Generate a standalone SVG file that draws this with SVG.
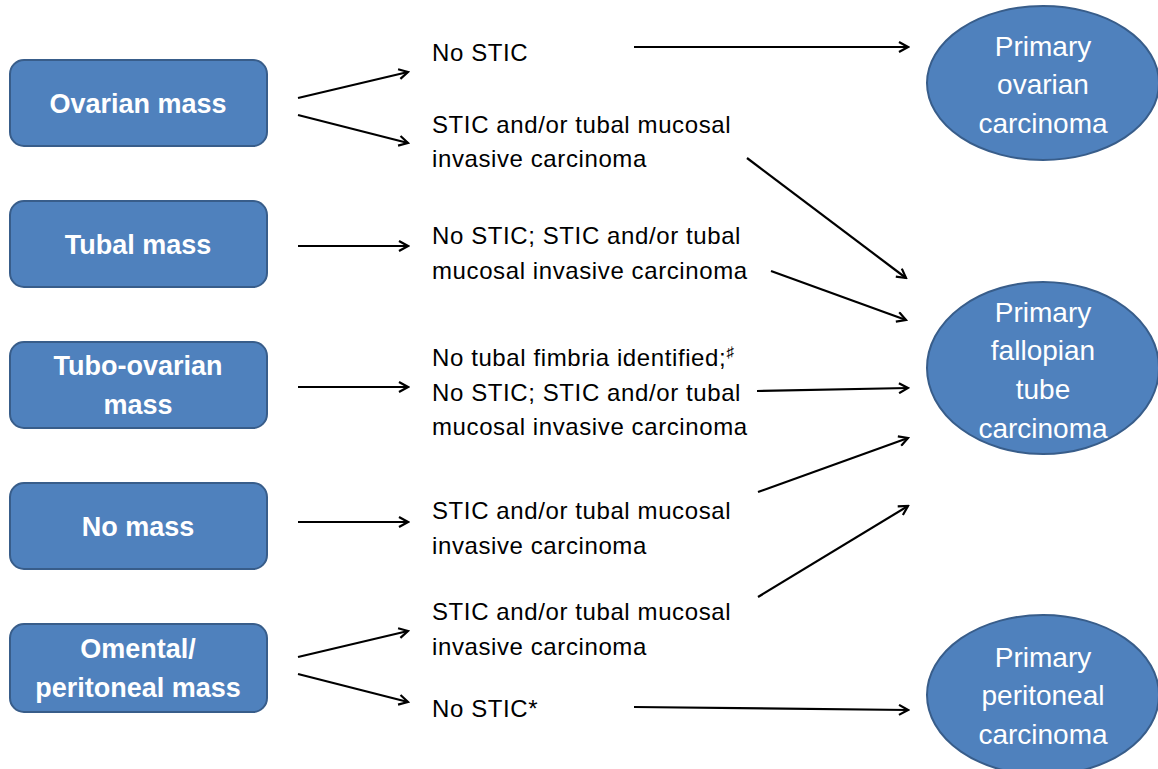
<svg xmlns="http://www.w3.org/2000/svg" width="1158" height="769" viewBox="0 0 1158 769">
<style>
.box{fill:#4f81bd;stroke:#385d8a;stroke-width:2}
.bt{font-family:"Liberation Sans",Arial,sans-serif;font-size:27px;font-weight:bold;fill:#fff;text-anchor:middle}
.et{font-family:"Liberation Sans",Arial,sans-serif;font-size:28px;fill:#fff;text-anchor:middle}
.mt{font-family:"Liberation Sans",Arial,sans-serif;font-size:24px;fill:#000;letter-spacing:0.6px}
.c{stroke:#000;stroke-width:2.2;fill:none;marker-end:url(#ah)}
</style>
<defs>
<marker id="ah" markerWidth="12" markerHeight="12" refX="10" refY="6" orient="auto" markerUnits="userSpaceOnUse">
<path d="M1,1 L10,6 L1,11" fill="none" stroke="#000" stroke-width="2.2"/>
</marker>
</defs>
<rect width="1158" height="769" fill="#fff"/>
<g id="n-ovarian"><rect class="box" x="10" y="60" width="257" height="86" rx="14"/><text class="bt" x="138" y="113">Ovarian mass</text></g>
<g id="n-tubal"><rect class="box" x="10" y="201" width="257" height="86" rx="14"/><text class="bt" x="138" y="254">Tubal mass</text></g>
<g id="n-tubo"><rect class="box" x="10" y="342" width="257" height="86" rx="14"/><text class="bt" x="138" y="375">Tubo-ovarian</text><text class="bt" x="138" y="414">mass</text></g>
<g id="n-nomass"><rect class="box" x="10" y="483" width="257" height="86" rx="14"/><text class="bt" x="138" y="536">No mass</text></g>
<g id="n-omental"><rect class="box" x="10" y="624" width="257" height="88" rx="14"/><text class="bt" x="138" y="658">Omental/</text><text class="bt" x="138" y="697">peritoneal mass</text></g>
<g id="t-1"><text class="mt" x="432" y="61">No STIC</text></g>
<g id="t-2"><text class="mt" x="432" y="133">STIC and/or tubal mucosal</text><text class="mt" x="432" y="167">invasive carcinoma</text></g>
<g id="t-3"><text class="mt" x="432" y="244">No STIC; STIC and/or tubal</text><text class="mt" x="432" y="279">mucosal invasive carcinoma</text></g>
<g id="t-4"><text class="mt" x="432" y="366">No tubal fimbria identified;<tspan dy="-9" font-size="15">♯</tspan></text><text class="mt" x="432" y="401">No STIC; STIC and/or tubal</text><text class="mt" x="432" y="435">mucosal invasive carcinoma</text></g>
<g id="t-5"><text class="mt" x="432" y="519">STIC and/or tubal mucosal</text><text class="mt" x="432" y="554">invasive carcinoma</text></g>
<g id="t-6"><text class="mt" x="432" y="620">STIC and/or tubal mucosal</text><text class="mt" x="432" y="655">invasive carcinoma</text></g>
<g id="t-7"><text class="mt" x="432" y="717">No STIC*</text></g>
<g id="e-ovarian"><ellipse class="box" cx="1043" cy="83" rx="116" ry="77"/><text class="et" x="1043" y="56">Primary</text><text class="et" x="1043" y="94">ovarian</text><text class="et" x="1043" y="133">carcinoma</text></g>
<g id="e-fallopian"><ellipse class="box" cx="1043" cy="368" rx="116" ry="86"/><text class="et" x="1043" y="322">Primary</text><text class="et" x="1043" y="360">fallopian</text><text class="et" x="1043" y="399">tube</text><text class="et" x="1043" y="438">carcinoma</text></g>
<g id="e-peritoneal"><ellipse class="box" cx="1043" cy="695" rx="116" ry="80"/><text class="et" x="1043" y="667">Primary</text><text class="et" x="1043" y="705">peritoneal</text><text class="et" x="1043" y="744">carcinoma</text></g>
<g id="connectors">
<line class="c" x1="298" y1="98" x2="408" y2="72"/>
<line class="c" x1="298" y1="115" x2="408" y2="143"/>
<line class="c" x1="298" y1="246" x2="408" y2="246"/>
<line class="c" x1="298" y1="387" x2="408" y2="387"/>
<line class="c" x1="298" y1="522" x2="408" y2="522"/>
<line class="c" x1="298" y1="657" x2="408" y2="631"/>
<line class="c" x1="298" y1="674" x2="408" y2="702"/>
<line class="c" x1="634" y1="47" x2="908" y2="47"/>
<line class="c" x1="747" y1="158" x2="906" y2="278"/>
<line class="c" x1="771" y1="271" x2="906" y2="320"/>
<line class="c" x1="757" y1="391" x2="908" y2="388"/>
<line class="c" x1="758" y1="492" x2="908" y2="438"/>
<line class="c" x1="758" y1="597" x2="908" y2="506"/>
<line class="c" x1="634" y1="707" x2="908" y2="710"/>
</g>
</svg>
